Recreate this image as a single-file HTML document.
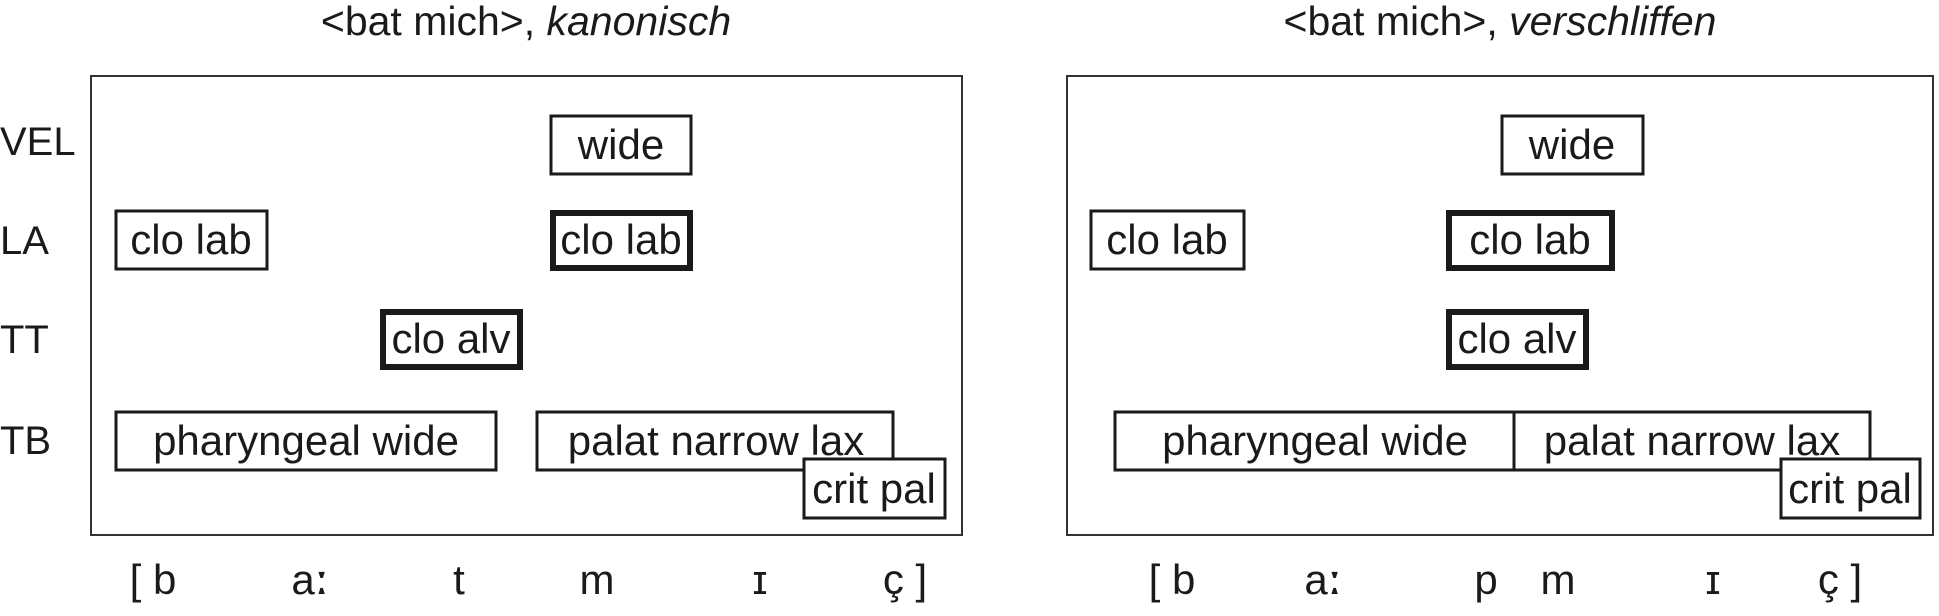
<!DOCTYPE html>
<html><head><meta charset="utf-8"><style>
html,body{margin:0;padding:0;background:#fff;}
svg{display:block;}
text{font-family:"Liberation Sans",sans-serif;fill:#1a1a1a;}
</style></head><body>
<svg width="1939" height="616" viewBox="0 0 1939 616" xmlns="http://www.w3.org/2000/svg">
<g font-size="41" text-anchor="middle">
<text x="526" y="35">&lt;bat mich&gt;, <tspan font-style="italic">kanonisch</tspan></text>
<text x="1500" y="35">&lt;bat mich&gt;, <tspan font-style="italic">verschliffen</tspan></text>
</g>
<g font-size="40">
<text x="0" y="155">VEL</text>
<text x="0" y="254">LA</text>
<text x="0" y="353">TT</text>
<text x="0" y="454">TB</text>
</g>
<g fill="none" stroke="#333" stroke-width="2">
<rect x="91" y="76" width="871" height="459"/>
<rect x="1067" y="76" width="866" height="459"/>
</g>
<g fill="#fff" stroke="#1a1a1a" stroke-width="3">
<rect x="551" y="116" width="140" height="58"/>
<rect x="116" y="211" width="151" height="58"/>
<rect x="116" y="412" width="380" height="58"/>
<rect x="537" y="412" width="356" height="58"/>
<rect x="804" y="459" width="141" height="59"/>
<rect x="1502" y="116" width="141" height="58"/>
<rect x="1091" y="211" width="153" height="58"/>
<rect x="1115" y="412" width="399" height="58"/>
<rect x="1514" y="412" width="356" height="58"/>
<rect x="1781" y="459" width="139" height="59"/>
</g>
<g fill="#fff" stroke="#1a1a1a" stroke-width="6">
<rect x="553" y="213" width="137" height="55"/>
<rect x="383" y="312" width="137" height="55"/>
<rect x="1449" y="213" width="163" height="55"/>
<rect x="1449" y="312" width="137" height="55"/>
</g>
<g font-size="42" text-anchor="middle">
<text x="621" y="159">wide</text>
<text x="191" y="254">clo lab</text>
<text x="621" y="254">clo lab</text>
<text x="451" y="353">clo alv</text>
<text x="306" y="455">pharyngeal wide</text>
<text x="716" y="455">palat narrow lax</text>
<text x="874" y="503">crit pal</text>
<text x="1572" y="159">wide</text>
<text x="1167" y="254">clo lab</text>
<text x="1530" y="254">clo lab</text>
<text x="1517" y="353">clo alv</text>
<text x="1315" y="455">pharyngeal wide</text>
<text x="1692" y="455">palat narrow lax</text>
<text x="1850" y="503">crit pal</text>
</g>
<g font-size="42" text-anchor="middle">
<text x="153" y="594">[ b</text>
<text x="310" y="594">a<tspan font-weight="bold">ː</tspan></text>
<text x="459" y="594">t</text>
<text x="597" y="594">m</text>
<text x="760" y="594">ɪ</text>
<text x="905" y="594">ç ]</text>
<text x="1172" y="594">[ b</text>
<text x="1323" y="594">a<tspan font-weight="bold">ː</tspan></text>
<text x="1486" y="594">p</text>
<text x="1558" y="594">m</text>
<text x="1713" y="594">ɪ</text>
<text x="1840" y="594">ç ]</text>
</g>
</svg>
</body></html>
